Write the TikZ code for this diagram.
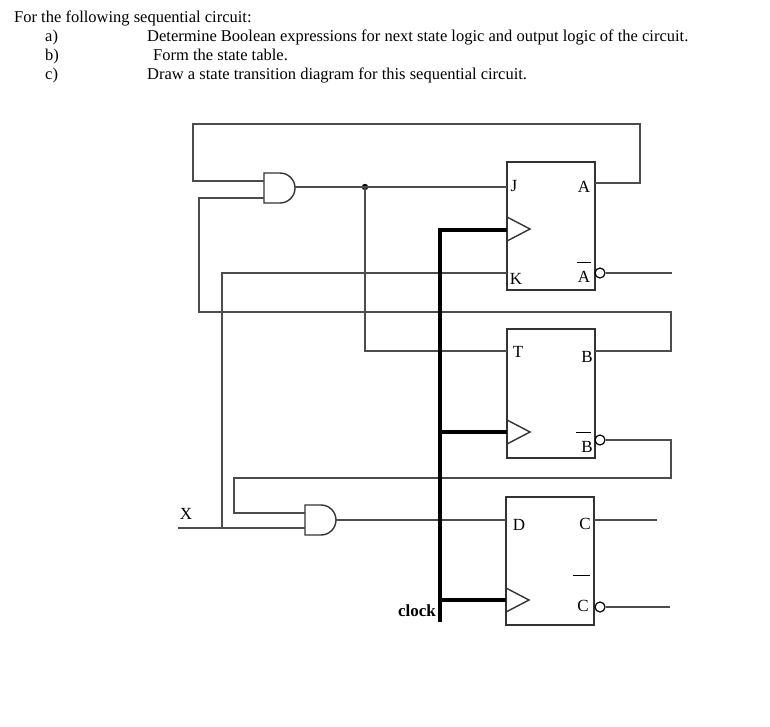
\documentclass[tikz,border=0pt]{standalone}
\usepackage{fontspec}
\setmainfont{Liberation Serif}
\begin{document}
\begin{tikzpicture}[x=1pt,y=-1pt,
  wire/.style={line width=1.4pt, color=black!70},
  ff/.style={draw, line width=1.4pt, color=black!80},
  bus/.style={line width=4pt},
  lbl/.style={inner sep=0pt, font=\fontsize{16.5}{18}\selectfont},
  dl/.style={inner sep=0pt, font=\fontsize{17}{18}\selectfont},
  bub/.style={draw, circle, minimum size=10pt, inner sep=0pt, line width=1.2pt}]
\useasboundingbox (0,0) rectangle (770,726);
% header text
\node[lbl, anchor=base west] (t0) at (14,22) {For the following sequential circuit:};
\node[lbl, anchor=base west] (ta) at (45,41) {a)};
\node[lbl, anchor=base west] (tb) at (45,60) {b)};
\node[lbl, anchor=base west] (tc) at (45,79) {c)};
\node[lbl, anchor=base west] (ta2) at (147,41) {Determine Boolean expressions for next state logic and output logic of the circuit.};
\node[lbl, anchor=base west] (tb2) at (153,60) {Form the state table.};
\node[lbl, anchor=base west] (tc2) at (147,79) {Draw a state transition diagram for this sequential circuit.};
% flip-flop boxes
\draw[ff] (507,162) rectangle (595,290);
\draw[ff] (507,329) rectangle (595,458);
\draw[ff] (506,497) rectangle (594,625);
\draw[ff] (507,217) -- (530,229) -- (507,241);
\draw[ff] (507,420) -- (530,432) -- (507,444);
\draw[ff] (506,588) -- (529,600) -- (506,612);
% labels
\node[dl] (J) at (514,186) {J};
\node[dl] (A) at (584,187) {A};
\node[dl] (K) at (516,279) {K};
\node[dl] (Ab) at (584,277) {A};
\draw[line width=0.9pt] (577,262) -- (591,262);
\node[dl] (T) at (518,352) {T};
\node[dl] (B) at (587,357) {B};
\node[dl] (Bb) at (587,447) {B};
\draw[line width=0.9pt] (576,432) -- (591,432);
\node[dl] (D) at (519,525) {D};
\node[dl] (C) at (585,524) {C};
\node[dl] (Cb) at (583,606) {C};
\draw[line width=0.9pt] (573,575) -- (590,575);
\node[dl] (X) at (186,514) {X};
\node[dl, font=\fontsize{17}{18}\selectfont\bfseries, anchor=east] (clk) at (436,611) {clock};
% bubbles
\node[bub] (bA) at (600,273) {};
\node[bub] (bB) at (600,440) {};
\node[bub] (bC) at (600,607) {};
% AND gates
\draw[ff] (264,173) -- (280,173) arc (-90:90:15) -- (264,203) -- cycle;
\draw[ff] (305,505) -- (321,505) arc (-90:90:15) -- (305,535) -- cycle;
% wires
\coordinate (jn) at (365,187);
\fill (jn) circle (3.2pt);
\draw[wire] (595,183) -- (640,183) -- (640,124) -- (193,124) -- (193,181) -- (264,181);
\draw[wire] (264,198) -- (199,198) -- (199,312) -- (671,312) -- (671,351) -- (595,351);
\draw[wire] (295,187) -- (jn) -- (507,187);
\draw[wire] (jn) -- (365,351) -- (507,351);
\draw[wire] (507,273) -- (222,273) -- (222,528);
\draw[wire] (178,528) -- (305,528);
\draw[wire] (305,513) -- (234,513) -- (234,478) -- (671,478) -- (671,440) -- (bB.east);
\draw[wire] (336,520) -- (506,520);
\draw[wire] (bA.east) -- (672,273);
\draw[wire] (594,520) -- (657,520);
\draw[wire] (bC.east) -- (670,607);
% clock bus
\draw[bus] (440,622) -- (440,230) -- (507,230);
\draw[bus] (440,432) -- (507,432);
\draw[bus] (440,600) -- (506,600);
\end{tikzpicture}
\end{document}
